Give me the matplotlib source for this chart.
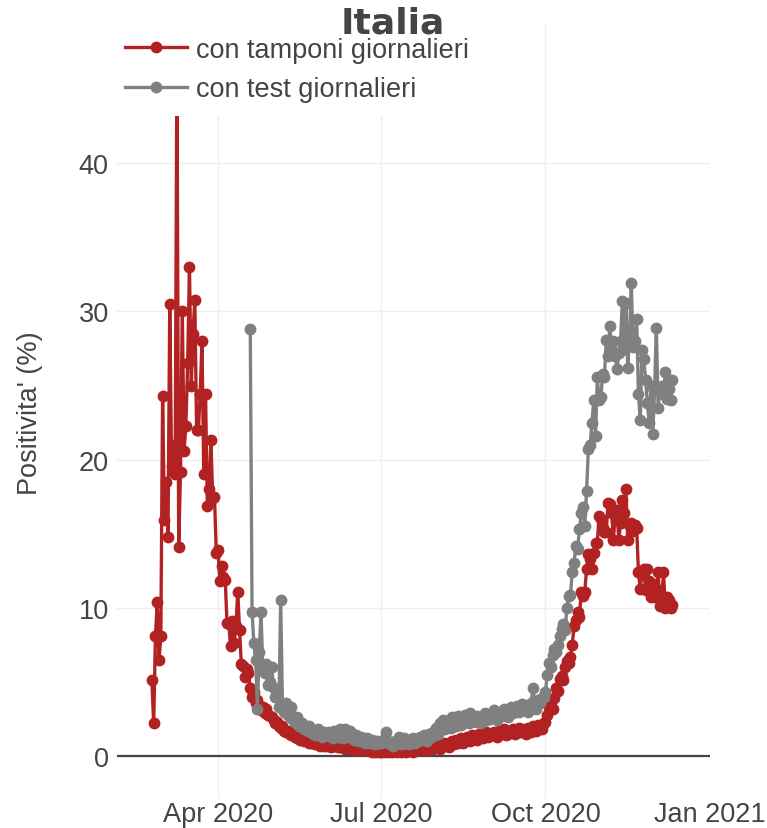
import matplotlib
matplotlib.use("Agg")
import matplotlib.pyplot as plt
import matplotlib.dates as mdates
import pandas as pd

# ---------------------------------------------------------------------------
# Data (daily positivity, %)
# ---------------------------------------------------------------------------
TAMPONI_START = "2020-02-24"
tamponi = [
    # Feb 24-29
    5.1, 2.2, 8.1, 10.4, 6.5, 8.1,
    # Mar
    24.3, 15.9, 18.5, 14.8, 30.5, 19.6, 21.0, 19.0, 47.0, 14.1,
    19.2, 30.0, 20.6, 22.3, 26.5, 33.0, 25.0, 28.5, 30.8, 22.0,
    22.0, 24.4, 28.0, 19.0, 24.4, 16.9, 18.0, 21.3, 17.4, 17.5, 13.7,
    # Apr
    13.9, 11.8, 12.8, 12.1, 11.9, 9.0, 8.9, 7.4, 9.1, 7.6,
    8.8, 11.1, 8.5, 6.2, 6.1, 5.3, 5.9, 5.6, 4.6, 4.0,
    4.3, 3.6, 3.8, 3.4, 3.1, 3.3, 2.9, 3.2, 2.8, 2.7,
    # May
    2.6, 2.4, 2.2, 2.3, 2.0, 1.9, 2.0, 1.7, 1.6, 1.7,
    1.5, 1.4, 1.5, 1.3, 1.2, 1.3, 1.1, 1.2, 1.0, 1.0,
    1.1, 0.9, 0.9, 1.0, 0.8, 0.9, 0.9, 0.7, 0.8, 0.7, 0.8,
    # Jun
    0.7, 0.8, 0.6, 0.8, 0.7, 0.8, 0.6, 0.6, 0.7, 0.6,
    0.5, 0.6, 0.7, 0.5, 0.6, 0.4, 0.6, 0.5, 0.4, 0.5,
    0.5, 0.4, 0.5, 0.4, 0.5, 0.3, 0.4, 0.3, 0.4, 0.3,
    # Jul
    0.3, 0.4, 0.3, 0.5, 0.3, 0.4, 0.3, 0.4, 0.5, 0.3,
    0.4, 0.3, 0.5, 0.4, 0.3, 0.4, 0.5, 0.4, 0.3, 0.5,
    0.4, 0.5, 0.6, 0.4, 0.5, 0.6, 0.5, 0.4, 0.6, 0.5, 0.6,
    # Aug
    0.6, 0.7, 0.5, 0.8, 0.7, 0.9, 0.8, 0.6, 0.9, 1.0,
    0.8, 1.1, 0.9, 1.0, 1.2, 0.9, 1.1, 1.3, 1.2, 1.0,
    1.4, 1.2, 1.3, 1.1, 1.5, 1.3, 1.2, 1.4, 1.6, 1.3, 1.5,
    # Sep
    1.4, 1.6, 1.5, 1.3, 1.7, 1.5, 1.6, 1.8, 1.4, 1.5,
    1.7, 1.6, 1.8, 1.5, 1.7, 1.9, 1.6, 1.8, 1.7, 1.5,
    1.9, 1.8, 1.6, 2.0, 1.9, 1.7, 2.1, 2.0, 1.8, 2.2,
    # Oct
    2.3, 2.8, 3.3, 3.4, 3.2, 3.9, 4.6, 4.4, 5.2, 5.4,
    5.1, 6.0, 6.4, 6.3, 6.7, 7.5, 8.8, 9.2, 9.7, 9.4,
    11.1, 10.8, 11.1, 12.6, 13.6, 13.3, 12.6, 13.7, 14.4, 14.4, 16.2,
    # Nov
    16.0, 15.4, 15.1, 15.1, 17.1, 17.0, 16.4, 14.6, 16.3, 16.6,
    14.6, 15.7, 17.3, 16.4, 18.0, 14.6, 15.5, 15.7, 15.2, 15.6,
    15.4, 12.4, 11.3, 12.3, 12.6, 11.2, 12.6, 11.8, 10.7, 11.6,
    # Dec 1-11
    10.7, 11.3, 12.4, 10.1, 10.6, 12.4, 10.0, 10.7, 10.5, 10.0, 10.2,
]

TEST_START = "2020-04-19"
test = [
    # Apr 19-30
    28.8, 9.7, 7.6, 6.5, 3.2, 7.0, 9.7, 6.0, 5.6, 6.2, 4.8, 5.0,
    # May
    6.0, 4.6, 4.0, 4.3, 3.3, 10.5, 3.4, 3.0, 3.6, 2.8,
    2.6, 3.3, 2.4, 2.3, 2.6, 2.0, 2.1, 2.2, 1.8, 1.9,
    1.7, 2.0, 1.6, 1.5, 1.7, 1.4, 1.8, 1.5, 1.3, 1.6, 1.4,
    # Jun
    1.4, 1.6, 1.3, 1.2, 1.7, 1.5, 1.3, 1.8, 1.4, 1.2,
    1.8, 1.5, 1.3, 1.7, 1.5, 1.1, 1.4, 1.2, 1.0, 1.3,
    1.1, 0.9, 1.2, 1.0, 0.9, 1.1, 0.9, 0.8, 1.0, 0.9,
    # Jul
    0.9, 1.1, 1.0, 1.6, 1.0, 0.8, 0.9, 0.7, 1.0, 0.8,
    1.3, 0.9, 0.8, 1.2, 0.9, 1.1, 0.8, 1.0, 1.2, 0.9,
    1.1, 1.0, 1.3, 1.1, 1.4, 1.2, 1.0, 1.5, 1.3, 1.6, 1.4,
    # Aug
    1.9, 1.5, 2.2, 2.0, 2.4, 1.8, 2.3, 2.1, 1.9, 2.6,
    2.2, 2.0, 2.7, 2.4, 2.1, 2.3, 2.8, 2.5, 2.2, 2.9,
    2.6, 2.4, 2.3, 2.7, 2.5, 2.2, 2.6, 2.9, 2.4, 2.7, 2.5,
    # Sep
    2.8, 3.1, 2.6, 2.4, 2.9, 3.0, 2.7, 3.2, 2.8, 2.6,
    3.0, 3.3, 2.9, 3.1, 3.4, 3.0, 3.2, 3.5, 3.1, 3.3,
    3.0, 3.4, 3.6, 4.6, 3.5, 3.2, 3.8, 3.6, 3.9, 4.0,
    # Oct
    4.3, 5.5, 6.3, 6.0, 6.8, 7.2, 7.0, 7.5, 8.1, 8.6,
    8.9, 8.5, 10.0, 10.8, 10.9, 12.4, 13.0, 14.2, 14.0, 15.3,
    16.4, 16.8, 15.5, 17.9, 20.7, 21.0, 22.5, 24.0, 21.6, 25.6, 24.0,
    # Nov
    24.2, 25.8, 25.6, 28.1, 27.0, 29.0, 27.4, 28.0, 27.0, 26.1,
    27.2, 28.0, 30.7, 27.5, 30.6, 26.2, 28.3, 31.9, 27.6, 28.0,
    29.5, 24.4, 22.7, 27.4, 26.8, 25.4, 23.8, 22.5, 25.0, 21.7,
    # Dec 1-11
    24.7, 28.9, 23.5, 24.7, 25.0, 24.4, 25.9, 24.1, 24.8, 24.0, 25.4,
]

LABEL_TAMPONI = "con tamponi giornalieri"
LABEL_TEST = "con test giornalieri"
TITLE = "Italia"
YLABEL = "Positivita' (%)"
XTICKS = ["2020-04-01", "2020-07-01", "2020-10-01", "2021-01-01"]
YTICKS = [0, 10, 20, 30, 40]

# ---------------------------------------------------------------------------
# Style
# ---------------------------------------------------------------------------
RED = "#b22222"
GREY = "#808080"
TEXT = "#444444"
GRID = "#eeeeee"
FONT = "Liberation Sans"
FS = 19.5

W, H = 767, 829


def main() -> None:
    plt.rcParams["font.family"] = [FONT, "DejaVu Sans"]

    d_tamp = pd.date_range(TAMPONI_START, periods=len(tamponi), freq="D")
    d_test = pd.date_range(TEST_START, periods=len(test), freq="D")

    fig = plt.figure(figsize=(W / 100, H / 100), dpi=100)
    ax = fig.add_axes([117 / W, 1 - 800 / H, (710 - 117) / W, (800 - 25) / H])

    ax.plot(d_tamp, tamponi, color=RED, lw=2.4, marker="o", ms=7.5,
            label=LABEL_TAMPONI, zorder=3)
    ax.plot(d_test, test, color=GREY, lw=2.4, marker="o", ms=7.5,
            label=LABEL_TEST, zorder=4)
    ax.axhline(0, color=TEXT, lw=1.6, zorder=2)

    ax.set_xlim(pd.Timestamp("2020-02-04 12:00"), pd.Timestamp("2020-12-31 18:00"))
    ax.set_ylim(-2.9, 49.4)

    ax.set_xticks(pd.to_datetime(XTICKS))
    ax.xaxis.set_major_formatter(mdates.DateFormatter("%b %Y"))
    ax.set_yticks(YTICKS)
    ax.grid(True, color=GRID, lw=1.0, zorder=0)
    ax.set_axisbelow(True)
    ax.tick_params(length=0, labelsize=FS, labelcolor=TEXT)
    ax.tick_params(axis="x", pad=1.5)
    ax.tick_params(axis="y", pad=6)
    for s in ax.spines.values():
        s.set_visible(False)

    leg = ax.legend(loc="upper left", bbox_to_anchor=(111 / W, 1 - 24 / H),
                    bbox_transform=fig.transFigure, fontsize=FS,
                    frameon=True, facecolor="white", edgecolor="none",
                    framealpha=1.0, fancybox=False, borderpad=0.5,
                    handlelength=2.3, handletextpad=0.35, labelspacing=0.5,
                    borderaxespad=0)
    for t in leg.get_texts():
        t.set_color(TEXT)
    leg.set_zorder(10)

    fig.text(393 / W, 1 - 23 / H, TITLE, ha="center", va="center",
             fontsize=26, fontweight="bold", color=TEXT, family="DejaVu Sans")
    fig.text(30 / W, 1 - 413 / H, YLABEL, ha="center", va="center",
             rotation=90, fontsize=FS, color=TEXT)

    fig.savefig("out.png", dpi=100, facecolor="white")
    plt.close(fig)


if __name__ == "__main__":
    main()
